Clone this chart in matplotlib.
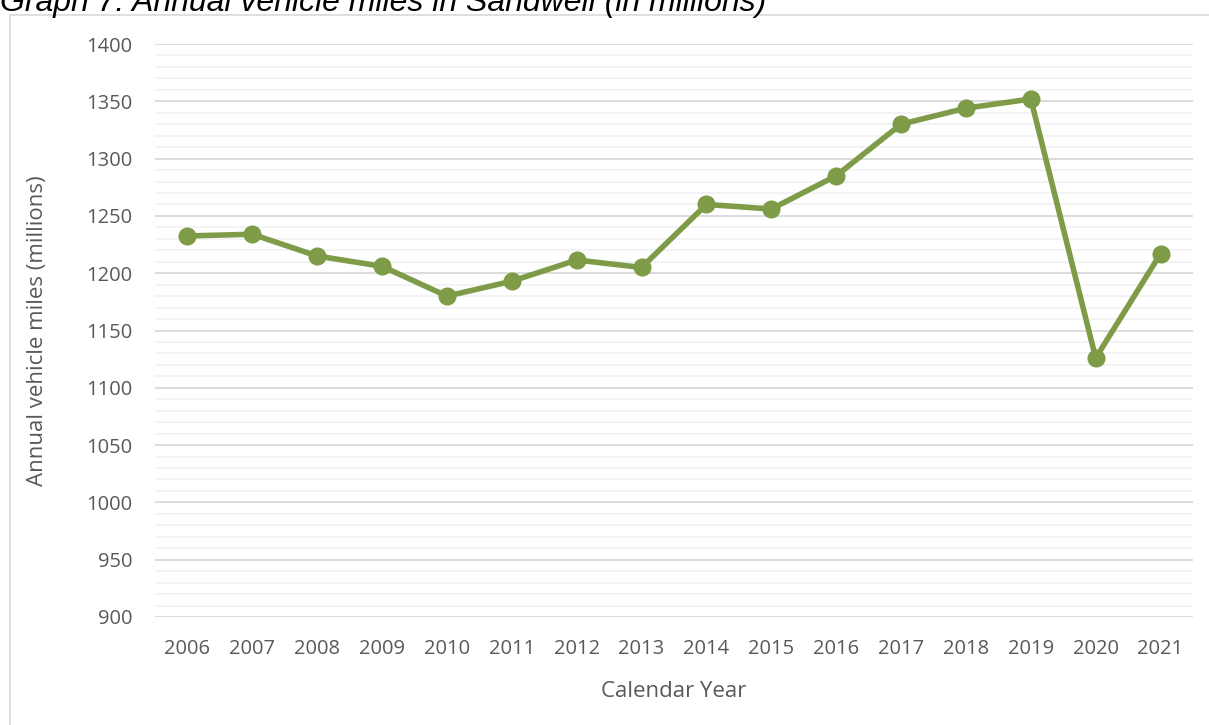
import matplotlib.pyplot as plt
from matplotlib.patches import Rectangle

# data
years = ['2006', '2007', '2008', '2009', '2010', '2011', '2012', '2013',
         '2014', '2015', '2016', '2017', '2018', '2019', '2020', '2021']
miles = [1232.5, 1234, 1215, 1206, 1180, 1193, 1211.5, 1205,
         1260, 1256, 1285, 1330, 1344, 1352, 1126, 1217]

plt.rcParams['font.family'] = ['Open Sans', 'DejaVu Sans']
grey = '#595959'

fig = plt.figure(figsize=(12.09, 7.25), dpi=100)
ax = fig.add_axes([155 / 1209, 1 - 617 / 725, (1193 - 155) / 1209, (617 - 44) / 725])

# chart frame (Excel style)
fig.patches.append(Rectangle((10 / 1209, -0.05), 1.2, 1 - 15 / 725 + 0.05,
                             transform=fig.transFigure, fill=False,
                             edgecolor='#d9d9d9', linewidth=1.2))

x = list(range(len(years)))
ax.plot(x, miles, color='#7e9b47', linewidth=4, marker='o', markersize=12,
        solid_capstyle='round', zorder=3)

ax.set_xlim(-0.5, len(years) - 0.5)
ax.set_ylim(900, 1400)
ax.set_yticks(range(900, 1401, 50))
ax.set_yticks(range(900, 1401, 10), minor=True)
ax.set_xticks(x)
ax.set_xticklabels(years)
ax.grid(axis='y', which='major', color='#d9d9d9', linewidth=1.3)
ax.grid(axis='y', which='minor', color='#f2f2f2', linewidth=1.3)
ax.set_axisbelow(True)
for s in ax.spines.values():
    s.set_visible(False)
ax.tick_params(axis='both', which='both', length=0, labelsize=14.5, colors=grey)
ax.tick_params(axis='y', pad=16)
ax.tick_params(axis='x', pad=16)

ax.set_xlabel('Calendar Year', fontsize=16, color=grey, labelpad=16)
ax.set_ylabel('Annual vehicle miles (millions)', fontsize=16, color=grey, labelpad=28)

# title is partly clipped by the top edge in the reference
fig.text(0.0, 1 - 11 / 725, 'Graph 7: Annual vehicle miles in Sandwell (in millions)',
         family='Liberation Sans', style='italic', fontsize=23, va='baseline', ha='left')

fig.savefig('out.png', dpi=100)
